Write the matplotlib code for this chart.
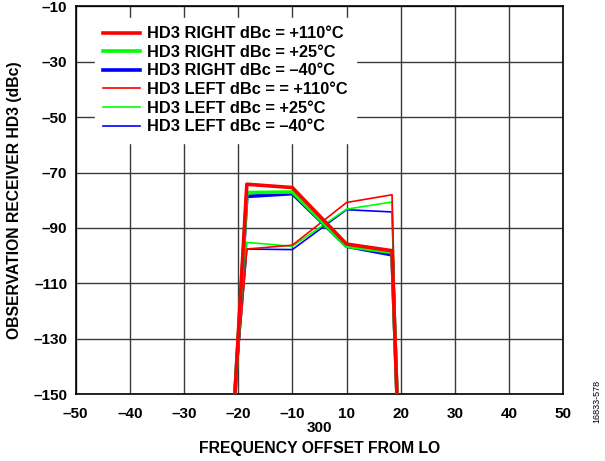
import matplotlib
matplotlib.use("Agg")
import matplotlib.pyplot as plt

plt.rcParams["font.family"] = ["Liberation Sans", "DejaVu Sans"]
plt.rcParams["font.weight"] = "bold"

# frequency offset from LO (MHz); the axis skips 0 (-10 is followed by 10)
offsets = [-20.6, -18.4, -10, 10, 18.4, 19.3]

right_110 = [-150, -74.2, -75.4, -95.8, -98.2, -150]
right_25 = [-150, -77.2, -77.0, -96.6, -98.8, -150]
right_m40 = [-150, -78.6, -77.6, -96.6, -99.7, -150]
left_110 = [-150, -97.6, -96.2, -80.8, -78.0, -150]
left_25 = [-150, -95.2, -96.6, -83.2, -80.6, -150]
left_m40 = [-150, -97.6, -97.8, -83.4, -84.2, -150]

xtick_vals = [-50, -40, -30, -20, -10, 10, 20, 30, 40, 50]
xtick_labels = ["–50", "–40", "–30", "–20", "–10", "10", "20", "30", "40", "50"]
ytick_vals = [-150, -130, -110, -90, -70, -50, -30, -10]
ytick_labels = ["–150", "–130", "–110", "–90", "–70", "–50", "–30", "–10"]


def to_pos(v):
    # broken axis: negative side kept, positive side shifted left by 10
    return v + 50 if v < 0 else v + 40


fig = plt.figure(figsize=(6.05, 4.61), dpi=100)
ax = fig.add_axes([0.125, 0.145, 0.806, 0.841])

x = [to_pos(v) for v in offsets]
series = [
    ("HD3 LEFT dBc = –40°C", left_m40, "#0000ff", 1.2),
    ("HD3 LEFT dBc = +25°C", left_25, "#00ff00", 1.2),
    ("HD3 LEFT dBc = = +110°C", left_110, "#ff0000", 1.2),
    ("HD3 RIGHT dBc = –40°C", right_m40, "#0000ff", 2.6),
    ("HD3 RIGHT dBc = +25°C", right_25, "#00ff00", 2.6),
    ("HD3 RIGHT dBc = +110°C", right_110, "#ff0000", 2.6),
]
handles = []
for label, y, color, lw in series:
    line, = ax.plot(x, y, color=color, lw=lw, label=label, zorder=3)
    handles.append(line)
handles = handles[3:][::-1] + handles[:3][::-1]

ax.set_xlim(0, 90)
ax.set_ylim(-150, -10)
ax.set_xticks([to_pos(v) for v in xtick_vals])
ax.set_xticklabels(xtick_labels)
ax.set_yticks(ytick_vals)
ax.set_yticklabels(ytick_labels)
ax.tick_params(length=0, labelsize=11)
ax.tick_params(axis="x", pad=9)
ax.tick_params(axis="y", pad=6)
ax.grid(True, color="#3a3a3a", lw=1.0)
for s in ax.spines.values():
    s.set_linewidth(1.2)

t = ax.text(45, -162.3, "300", ha="center", va="center",
            fontsize=11, fontweight="bold")
t.set_clip_on(False)

ax.set_xlabel("FREQUENCY OFFSET FROM LO", fontsize=11.3, fontweight="bold", labelpad=15)
ax.set_ylabel("OBSERVATION RECEIVER HD3 (dBc)", fontsize=11.3, fontweight="bold", labelpad=8)

leg = ax.legend(handles=handles, loc="upper left", bbox_to_anchor=(0.039, 0.97),
                fontsize=11.8, frameon=True, facecolor="white", edgecolor="white",
                framealpha=1, fancybox=False, handlelength=2.25, handletextpad=0.43,
                labelspacing=0.22, borderpad=0.5, borderaxespad=0)
leg.set_zorder(4)

fig.text(0.986, 0.13, "16833-578", rotation=90, fontsize=6.5, fontweight="normal",
         ha="center", va="center")

fig.savefig("out.png", dpi=100)
